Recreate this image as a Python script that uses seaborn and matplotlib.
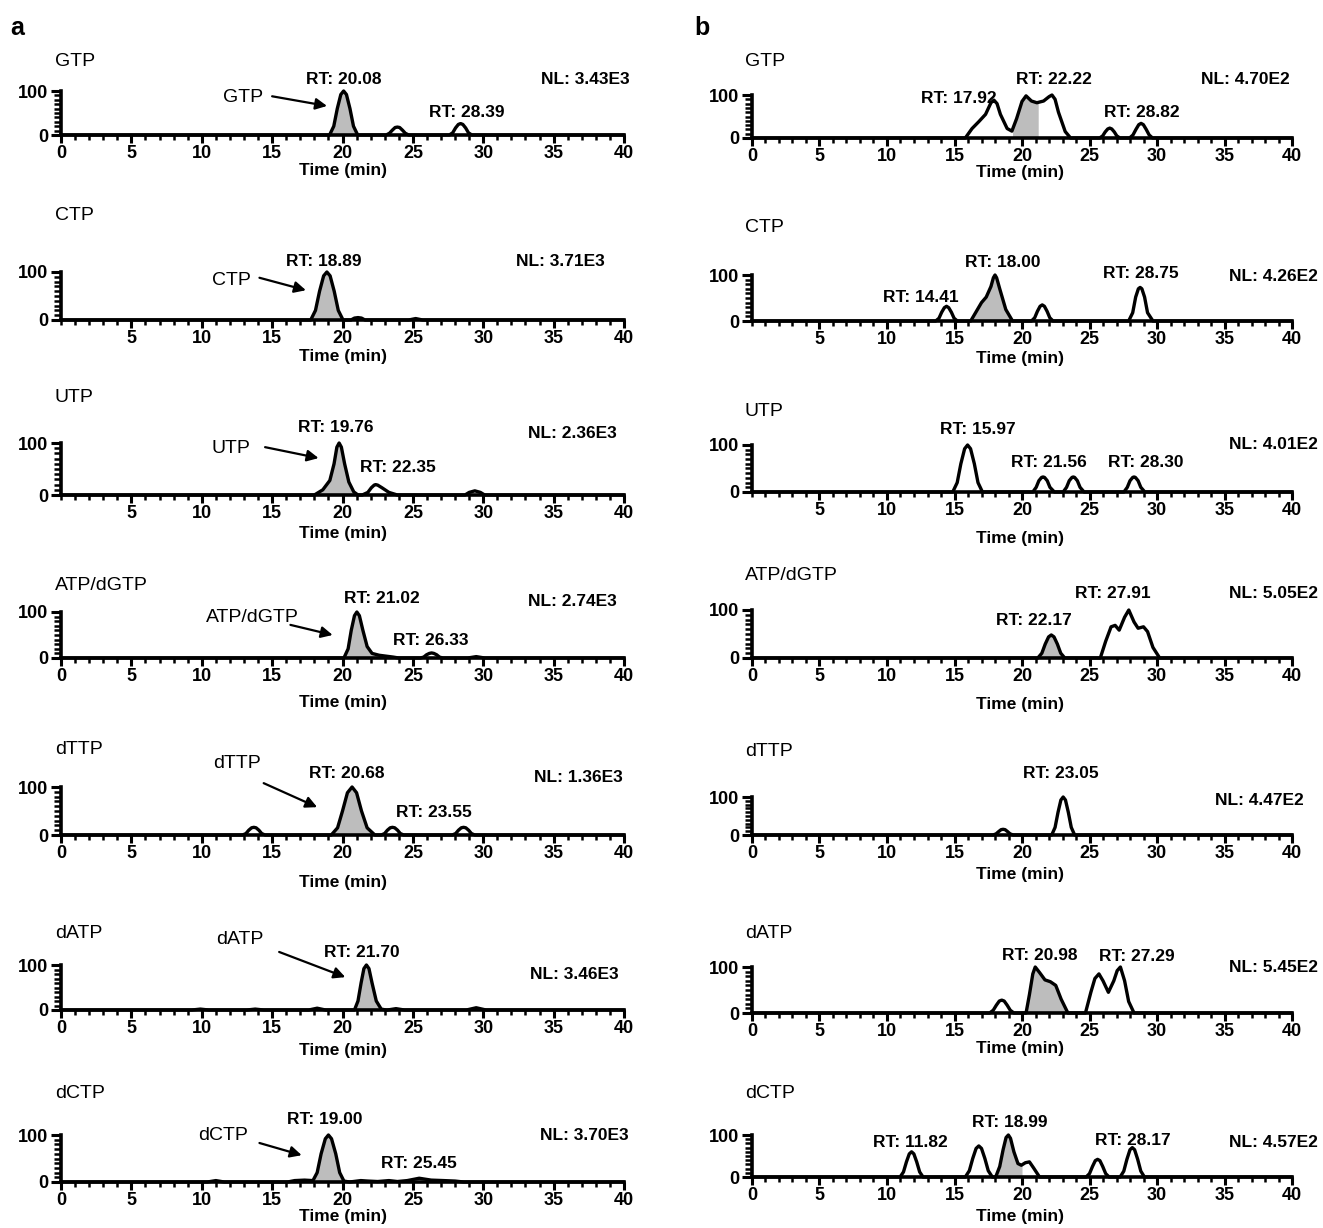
import numpy as np
import pandas as pd
import seaborn as sns
import matplotlib
matplotlib.use("Agg")
import matplotlib.pyplot as plt
from matplotlib.ticker import MultipleLocator, FixedLocator

# ---------------- chromatogram traces: (time in min, relative abundance %) ----------------
GTP_A = [(0, 0), (19.08, 0), (19.38, 20), (19.63, 60), (19.88, 92), (20.08, 100), (20.28, 92), (20.53, 60),
         (20.78, 20), (21.08, 0),
         (23.1, 0), (23.34, 4), (23.54, 11), (23.74, 17), (23.9, 18), (24.06, 17), (24.26, 11), (24.46, 4),
         (24.7, 0),
         (27.59, 0), (27.83, 5), (28.03, 16), (28.23, 24), (28.39, 26), (28.55, 24), (28.75, 16), (28.95, 5),
         (29.19, 0), (40, 0)]
CTP_A = [(0, 0), (17.74, 0), (18.08, 20), (18.37, 60), (18.66, 92), (18.89, 100), (19.12, 92), (19.41, 60),
         (19.7, 20), (20.04, 0),
         (20.6, 0), (20.85, 4), (21.1, 5), (21.35, 4), (21.6, 0), (24.7, 0), (25.2, 3), (25.7, 0), (40, 0)]
UTP_A = [(0, 0), (18.0, 0), (18.6, 10), (19.1, 28), (19.4, 60), (19.6, 92), (19.76, 100), (19.92, 92),
         (20.15, 60), (20.45, 25), (20.8, 6), (21.1, 0),
         (21.4, 0), (21.8, 5), (22.05, 14), (22.25, 19), (22.35, 20), (22.5, 19), (22.8, 14), (23.3, 5),
         (23.9, 0), (28.7, 0), (29.0, 5), (29.4, 8), (29.8, 5), (30.1, 0), (40, 0)]
ATP_A = [(0, 0), (20.1, 0), (20.4, 20), (20.62, 60), (20.85, 92), (21.02, 100), (21.2, 92), (21.45, 60),
         (21.75, 25), (22.1, 10), (22.6, 6), (23.1, 4), (23.6, 2), (24.0, 0),
         (25.53, 0), (25.77, 2), (25.97, 7), (26.17, 10), (26.33, 11), (26.49, 10), (26.69, 7), (26.89, 2),
         (27.13, 0), (28.9, 0), (29.5, 3), (30.1, 0), (40, 0)]
DTTP_A = [(0, 0), (12.9, 0), (13.14, 3), (13.34, 10), (13.54, 15), (13.7, 16), (13.86, 15), (14.06, 10),
          (14.26, 3), (14.5, 0),
          (19.2, 0), (19.65, 15), (20.0, 50), (20.35, 88), (20.68, 100), (21.0, 88), (21.35, 50), (21.75, 15),
          (22.3, 0),
          (22.75, 0), (22.99, 3), (23.19, 10), (23.39, 15), (23.55, 16), (23.71, 15), (23.91, 10), (24.11, 3),
          (24.35, 0),
          (27.8, 0), (28.04, 3), (28.24, 10), (28.44, 15), (28.6, 16), (28.76, 15), (28.96, 10), (29.16, 3),
          (29.4, 0), (40, 0)]
DATP_A = [(0, 0), (9.3, 0), (9.9, 2), (10.5, 0), (13.2, 0), (13.8, 2), (14.4, 0), (17.6, 0), (18.2, 4),
          (18.8, 0),
          (20.85, 0), (21.1, 20), (21.32, 60), (21.52, 92), (21.7, 100), (21.88, 92), (22.1, 60), (22.4, 20),
          (22.75, 2), (23.1, 0),
          (23.2, 0), (23.8, 3), (24.4, 0), (28.8, 0), (29.5, 5), (30.2, 0), (40, 0)]
DCTP_A = [(0, 0), (10.4, 0), (11.0, 3), (11.6, 0), (16.1, 0), (16.6, 3), (17.3, 4), (17.9, 3),
          (18.2, 20), (18.48, 60), (18.78, 92), (19.0, 100), (19.22, 92), (19.52, 60), (19.8, 20), (20.1, 2),
          (20.5, 0), (21.3, 3), (21.8, 2), (22.5, 1), (23.3, 3), (23.9, 1), (24.6, 3), (25.45, 8), (26.3, 4),
          (27.2, 3), (28.0, 2), (28.6, 0), (40, 0)]

GTP_B = [(0, 0), (15.8, 0), (16.3, 22), (16.8, 38), (17.3, 55), (17.7, 82), (17.92, 88), (18.15, 80),
         (18.4, 55), (18.9, 22), (19.25, 16), (19.6, 45), (20.0, 85), (20.3, 98), (20.7, 86), (21.1, 82),
         (21.6, 86), (22.0, 96), (22.22, 100), (22.45, 90), (22.7, 60), (23.2, 15), (23.6, 0),
         (25.75, 0), (25.98, 5), (26.16, 14), (26.35, 21), (26.5, 23), (26.65, 21), (26.84, 14), (27.02, 5),
         (27.25, 0),
         (27.97, 0), (28.22, 7), (28.44, 20), (28.65, 31), (28.82, 34), (28.99, 31), (29.2, 20), (29.42, 7),
         (29.67, 0), (40, 0)]
CTP_B = [(0, 0), (13.61, 0), (13.85, 6), (14.05, 19), (14.25, 29), (14.41, 32), (14.57, 29), (14.77, 19),
         (14.97, 6), (15.21, 0),
         (16.2, 0), (16.6, 20), (17.0, 40), (17.35, 52), (17.7, 75), (17.88, 94), (18.0, 100), (18.12, 94),
         (18.35, 70), (18.8, 25), (19.3, 0),
         (20.7, 0), (20.94, 7), (21.14, 21), (21.34, 32), (21.5, 35), (21.66, 32), (21.86, 21), (22.06, 7),
         (22.3, 0),
         (27.9, 0), (28.2, 18), (28.42, 52), (28.62, 70), (28.75, 73), (28.88, 70), (29.08, 52), (29.3, 18),
         (29.7, 0), (40, 0)]
UTP_B = [(0, 0), (14.87, 0), (15.2, 20), (15.47, 60), (15.75, 92), (15.97, 100), (16.19, 92), (16.47, 60),
         (16.74, 20), (17.07, 0),
         (20.8, 0), (21.05, 10), (21.25, 24), (21.45, 31), (21.56, 32), (21.67, 31), (21.87, 24), (22.07, 10),
         (22.4, 0),
         (23.05, 0), (23.3, 10), (23.5, 24), (23.7, 31), (23.8, 32), (23.9, 31), (24.1, 24), (24.3, 10),
         (24.6, 0),
         (27.55, 0), (27.8, 10), (28.0, 24), (28.2, 31), (28.3, 32), (28.4, 31), (28.6, 24), (28.8, 10),
         (29.1, 0), (40, 0)]
ATP_B = [(0, 0), (21.17, 0), (21.47, 10), (21.72, 29), (21.97, 44), (22.17, 48), (22.37, 44), (22.62, 29),
         (22.87, 10), (23.17, 0),
         (25.8, 0), (26.2, 35), (26.6, 65), (26.9, 68), (27.2, 58), (27.6, 85), (27.91, 100), (28.3, 75),
         (28.6, 62), (29.0, 65), (29.3, 55), (29.7, 22), (30.2, 0), (40, 0)]
DTTP_B = [(0, 0), (17.85, 0), (18.08, 3), (18.27, 9), (18.45, 14), (18.6, 15), (18.75, 14), (18.93, 9),
          (19.12, 3), (19.35, 0),
          (22.2, 0), (22.45, 20), (22.67, 60), (22.88, 92), (23.05, 100), (23.22, 92), (23.43, 60), (23.65, 20),
          (23.9, 0), (40, 0)]
DATP_B = [(0, 0), (17.6, 0), (17.87, 6), (18.1, 17), (18.32, 26), (18.5, 28), (18.68, 26), (18.9, 17),
          (19.13, 6), (19.4, 0),
          (20.3, 0), (20.55, 40), (20.8, 85), (20.98, 100), (21.3, 88), (21.7, 72), (22.1, 68), (22.5, 60),
          (22.9, 30), (23.4, 0),
          (24.7, 0), (25.1, 45), (25.4, 75), (25.7, 85), (26.0, 70), (26.4, 45), (26.8, 70), (27.05, 92),
          (27.29, 100), (27.6, 70), (27.9, 25), (28.3, 0), (40, 0)]
DCTP_B = [(0, 0), (10.97, 0), (11.22, 12), (11.44, 36), (11.65, 55), (11.82, 60), (11.99, 55), (12.2, 36),
          (12.42, 12), (12.67, 0),
          (15.8, 0), (16.1, 15), (16.35, 44), (16.6, 68), (16.8, 74), (17.0, 68), (17.25, 44), (17.5, 15),
          (17.8, 0),
          (18.05, 0), (18.35, 25), (18.6, 65), (18.82, 94), (18.99, 100), (19.15, 92), (19.4, 60), (19.7, 32),
          (19.95, 28), (20.25, 34), (20.55, 36), (20.85, 22), (21.3, 0),
          (24.75, 0), (25.0, 8), (25.22, 25), (25.43, 39), (25.6, 42), (25.77, 39), (25.98, 25), (26.2, 8),
          (26.45, 0),
          (27.27, 0), (27.54, 14), (27.77, 42), (28.0, 65), (28.17, 70), (28.34, 65), (28.57, 42), (28.8, 14),
          (29.07, 0), (40, 0)]

# integrated (shaded) windows, min
SHADE = {"GTP_A": (19.08, 21.08), "CTP_A": (17.74, 20.04), "UTP_A": (18.0, 21.1), "ATP_A": (20.1, 24.0),
         "DTTP_A": (19.2, 22.3), "DATP_A": (20.85, 23.1), "DCTP_A": (17.9, 20.5),
         "GTP_B": (19.3, 21.2), "CTP_B": (16.2, 19.3), "UTP_B": None, "ATP_B": (21.17, 23.17),
         "DTTP_B": None, "DATP_B": (20.3, 23.4), "DCTP_B": (18.05, 20.0)}

# retention times and normalisation levels
RT = {"GTP_A": [20.08, 28.39], "CTP_A": [18.89], "UTP_A": [19.76, 22.35], "ATP_A": [21.02, 26.33],
      "DTTP_A": [20.68, 23.55], "DATP_A": [21.70], "DCTP_A": [19.00, 25.45],
      "GTP_B": [17.92, 22.22, 28.82], "CTP_B": [14.41, 18.00, 28.75], "UTP_B": [15.97, 21.56, 28.30],
      "ATP_B": [22.17, 27.91], "DTTP_B": [23.05], "DATP_B": [20.98, 27.29], "DCTP_B": [11.82, 18.99, 28.17]}
NL = {"GTP_A": "3.43E3", "CTP_A": "3.71E3", "UTP_A": "2.36E3", "ATP_A": "2.74E3", "DTTP_A": "1.36E3",
      "DATP_A": "3.46E3", "DCTP_A": "3.70E3", "GTP_B": "4.70E2", "CTP_B": "4.26E2", "UTP_B": "4.01E2",
      "ATP_B": "5.05E2", "DTTP_B": "4.47E2", "DATP_B": "5.45E2", "DCTP_B": "4.57E2"}
NAMES = ["GTP", "CTP", "UTP", "ATP/dGTP", "dTTP", "dATP", "dCTP"]
KEYS = ["GTP", "CTP", "UTP", "ATP", "DTTP", "DATP", "DCTP"]
TRACES = {"GTP_A": GTP_A, "CTP_A": CTP_A, "UTP_A": UTP_A, "ATP_A": ATP_A, "DTTP_A": DTTP_A,
          "DATP_A": DATP_A, "DCTP_A": DCTP_A, "GTP_B": GTP_B, "CTP_B": CTP_B, "UTP_B": UTP_B,
          "ATP_B": ATP_B, "DTTP_B": DTTP_B, "DATP_B": DATP_B, "DCTP_B": DCTP_B}

# ---------------- layout ----------------
W, H = 1323, 1228
COLS = {"A": (61, 624), "B": (752, 1292)}
BOX = {"A": [(91, 135), (272, 320), (443, 495), (612, 658), (787, 835), (965, 1010), (1135, 1182)],
       "B": [(95, 138), (275, 321), (445, 492), (610, 658), (797, 835), (967, 1013), (1135, 1177)]}
TITLE_Y = {"A": [62, 215, 398, 585, 750, 933, 1093], "B": [62, 228, 412, 575, 752, 933, 1093]}
TITLE_X = {"A": 55, "B": 745}
TIME_Y = {"A": [170, 357, 533, 703, 882, 1050, 1217], "B": [172, 359, 538, 705, 874, 1048, 1217]}
TIME_X = {"A": 343, "B": 1020}
NO_ZERO = {"CTP_A", "UTP_A", "CTP_B", "UTP_B"}
RT_POS = {"GTP_A": [(20.1, 125), (28.8, 52)], "CTP_A": [(18.65, 121)], "UTP_A": [(19.5, 129), (23.9, 52)],
          "ATP_A": [(22.8, 130), (26.3, 39)], "DTTP_A": [(20.3, 129), (26.5, 46)], "DATP_A": [(21.35, 127)],
          "DCTP_A": [(18.75, 132), (25.4, 40)],
          "GTP_B": [(15.3, 93), (22.4, 135), (28.9, 60)], "CTP_B": [(12.5, 50), (18.55, 128), (28.8, 104)],
          "UTP_B": [(16.7, 132), (22.0, 62), (29.2, 62)], "ATP_B": [(20.9, 79), (26.7, 135)],
          "DTTP_B": [(22.9, 163)], "DATP_B": [(21.3, 126), (28.5, 122)],
          "DCTP_B": [(11.7, 83), (19.1, 129), (28.2, 88)]}
NL_POS = {"GTP_A": (40.4, 125), "CTP_A": (38.6, 121), "UTP_A": (39.5, 119), "ATP_A": (39.5, 122),
          "DTTP_A": (39.9, 119), "DATP_A": (39.6, 78), "DCTP_A": (40.3, 100),
          "GTP_B": (39.8, 135), "CTP_B": (41.9, 96), "UTP_B": (41.9, 100), "ATP_B": (41.9, 135),
          "DTTP_B": (40.9, 92), "DATP_B": (41.9, 98), "DCTP_B": (41.9, 81)}
ARROWS = {"GTP_A": ((12.9, 86), (15.0, 88), (18.9, 66)), "CTP_A": ((12.1, 83), (14.1, 88), (17.4, 62)),
          "UTP_A": ((12.1, 90), (14.5, 92), (18.3, 71)), "ATP_A": ((13.6, 89), (16.3, 72), (19.3, 50)),
          "DTTP_A": ((12.5, 150), (14.4, 108), (18.2, 58)), "DATP_A": ((12.7, 156), (15.5, 129), (20.2, 73)),
          "DCTP_A": ((11.5, 100), (14.1, 83), (17.1, 57))}

sns.set_theme(style="ticks")
BOLD_FAM = ["Liberation Sans", "DejaVu Sans"]
plt.rcParams["font.family"] = ["Liberation Sans", "DejaVu Sans"]
plt.rcParams["text.color"] = "black"
plt.rcParams["xtick.labelcolor"] = "black"
plt.rcParams["ytick.labelcolor"] = "black"

fig = plt.figure(figsize=(W / 100, H / 100), dpi=100)
BOLD = dict(fontweight="bold", fontsize=12.5, family=BOLD_FAM, color="black")

for col in ["A", "B"]:
    x0, x1 = COLS[col]
    for i, (key, name) in enumerate(zip(KEYS, NAMES)):
        k = f"{key}_{col}"
        y100, y0 = BOX[col][i]
        ax = fig.add_axes([x0 / W, 1 - y0 / H, (x1 - x0) / W, (y0 - y100) / H])
        df = pd.DataFrame(TRACES[k], columns=["time", "abundance"])
        sh = SHADE[k]
        if sh is not None:
            tt = np.linspace(sh[0], sh[1], 300)
            ax.fill_between(tt, 0, np.interp(tt, df["time"], df["abundance"]),
                            color="#bdbdbd", lw=0, zorder=1)
        sns.lineplot(data=df, x="time", y="abundance", ax=ax, color="black", lw=2.4,
                     sort=False, estimator=None, zorder=3, clip_on=False,
                     solid_joinstyle="round")
        ax.set_xlim(0, 40)
        ax.set_ylim(0, 100)
        ax.set_xlabel("")
        ax.set_ylabel("")
        ax.set_facecolor("none")
        for s in ["top", "right"]:
            ax.spines[s].set_visible(False)
        for s in ["left", "bottom"]:
            ax.spines[s].set_linewidth(2.6)
            ax.spines[s].set_color("black")
        majors = list(range(5 if k in NO_ZERO else 0, 41, 5))
        ax.xaxis.set_major_locator(FixedLocator(majors))
        ax.xaxis.set_minor_locator(MultipleLocator(1))
        ax.yaxis.set_major_locator(FixedLocator([0, 100]))
        ax.yaxis.set_minor_locator(MultipleLocator(10))
        ax.tick_params(axis="both", which="both", bottom=True, left=True, top=False, right=False,
                       direction="out", color="black", labelcolor="black")
        ax.tick_params(axis="x", which="major", length=6, width=2.2, pad=1.5)
        ax.tick_params(axis="x", which="minor", length=3.5, width=1.8)
        ax.tick_params(axis="y", which="major", length=7, width=2.2, pad=2)
        ax.tick_params(axis="y", which="minor", length=5, width=1.8)
        ax.set_xticklabels([str(m) for m in majors])
        ax.set_yticklabels(["0", "100"])
        for lab in ax.get_xticklabels() + ax.get_yticklabels():
            lab.set_fontweight("bold")
            lab.set_fontsize(13)
            lab.set_family(BOLD_FAM)
            lab.set_color("black")
        # retention-time and normalisation labels
        for rt, (tx, ty) in zip(RT[k], RT_POS[k]):
            ax.text(tx, ty, f"RT: {rt:.2f}", ha="center", va="center", clip_on=False, **BOLD)
        nx, ny = NL_POS[k]
        ax.text(nx, ny, f"NL: {NL[k]}", ha="right", va="center", clip_on=False, **BOLD)
        if k in ARROWS:
            (lx, ly), start, head = ARROWS[k]
            ax.text(lx, ly, name, ha="center", va="center", fontsize=14, color="black", clip_on=False)
            ax.annotate("", xy=head, xytext=start, annotation_clip=False,
                        arrowprops=dict(arrowstyle="-|>", color="black", lw=1.6, mutation_scale=17,
                                        shrinkA=0, shrinkB=0))
        fig.text(TITLE_X[col] / W, 1 - TITLE_Y[col][i] / H, name, ha="left", va="center", fontsize=14,
                 color="black")
        fig.text(TIME_X[col] / W, 1 - TIME_Y[col][i] / H, "Time (min)", ha="center", va="center", **BOLD)

fig.text(17 / W, 1 - 28 / H, "a", ha="center", va="center", fontsize=18, fontweight="bold", color="black")
fig.text(702 / W, 1 - 28 / H, "b", ha="center", va="center", fontsize=18, fontweight="bold", color="black")

fig.savefig("out.png", dpi=100)
